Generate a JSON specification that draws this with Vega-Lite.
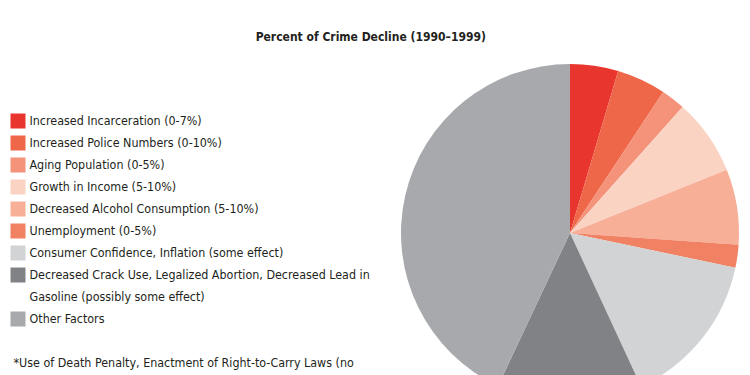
{
  "$schema": "https://vega.github.io/schema/vega-lite/v6.json",
  "autosize": {"type": "pad"},
  "padding": {"left": 10, "top": 31, "right": 5, "bottom": 0},
  "background": "white",
  "title": {
    "text": "Percent of Crime Decline (1990–1999)",
    "anchor": "middle",
    "font": "DejaVu Sans Condensed, Liberation Sans, sans-serif",
    "fontSize": 12,
    "fontWeight": "bold",
    "color": "#231F20",
    "offset": 20,
    "dx": -4
  },
  "config": {"view": {"stroke": null}},
  "datasets": {
    "factors": [
      {"factor": "Increased Incarceration (0-7%)", "pct": 4.6, "rank": 1},
      {"factor": "Increased Police Numbers (0-10%)", "pct": 4.7, "rank": 2},
      {"factor": "Aging Population (0-5%)", "pct": 2.3, "rank": 3},
      {"factor": "Growth in Income (5-10%)", "pct": 7.3, "rank": 4},
      {"factor": "Decreased Alcohol Consumption (5-10%)", "pct": 7.2, "rank": 5},
      {"factor": "Unemployment (0-5%)", "pct": 2.2, "rank": 6},
      {"factor": "Consumer Confidence, Inflation (some effect)", "pct": 14.8, "rank": 7},
      {"factor": "Decreased Crack Use, Legalized Abortion, Decreased Lead in\nGasoline (possibly some effect)", "pct": 13.9, "rank": 8},
      {"factor": "Other Factors", "pct": 43.0, "rank": 9}
    ],
    "note": [
      {"key": "note", "text": "*Use of Death Penalty, Enactment of Right-to-Carry Laws (no"}
    ]
  },
  "spacing": 20,
  "hconcat": [
    {
      "width": 362.5,
      "height": 338,
      "layer": [
        {
          "data": {"name": "factors"},
          "mark": {"type": "square", "size": 225, "opacity": 1, "filled": true},
          "encoding": {
            "x": {"datum": 0, "type": "quantitative", "scale": {"domain": [0, 1]}, "axis": null},
            "y": {
              "field": "factor",
              "type": "nominal",
              "scale": {
                "type": "point",
                "padding": 0,
                "range": [57, 299],
                "domain": [
                  "Increased Incarceration (0-7%)",
                  "Increased Police Numbers (0-10%)",
                  "Aging Population (0-5%)",
                  "Growth in Income (5-10%)",
                  "Decreased Alcohol Consumption (5-10%)",
                  "Unemployment (0-5%)",
                  "Consumer Confidence, Inflation (some effect)",
                  "Decreased Crack Use, Legalized Abortion, Decreased Lead in\nGasoline (possibly some effect)",
                  "gap1",
                  "Other Factors",
                  "gap2",
                  "note"
                ]
              },
              "axis": null
            },
            "color": {
              "field": "factor",
              "type": "nominal",
              "legend": null,
              "scale": {
                "domain": [
                  "Increased Incarceration (0-7%)",
                  "Increased Police Numbers (0-10%)",
                  "Aging Population (0-5%)",
                  "Growth in Income (5-10%)",
                  "Decreased Alcohol Consumption (5-10%)",
                  "Unemployment (0-5%)",
                  "Consumer Confidence, Inflation (some effect)",
                  "Decreased Crack Use, Legalized Abortion, Decreased Lead in\nGasoline (possibly some effect)",
                  "Other Factors"
                ],
                "range": ["#E8352E", "#EF6749", "#F4937A", "#FAD3C3", "#F7AF98", "#F08163", "#D1D3D4", "#808285", "#A7A9AC"]
              }
            }
          }
        },
        {
          "data": {"name": "factors"},
          "mark": {
            "type": "text",
            "align": "left",
            "baseline": "middle",
            "dx": 11.5,
            "font": "DejaVu Sans Condensed, Liberation Sans, sans-serif",
            "fontSize": 12.4,
            "lineHeight": 22,
            "lineBreak": "\n",
            "color": "#231F20"
          },
          "encoding": {
            "x": {"datum": 0, "type": "quantitative", "axis": null},
            "y": {"field": "factor", "type": "nominal", "axis": null},
            "text": {"field": "factor"}
          }
        },
        {
          "data": {"name": "note"},
          "mark": {
            "type": "text",
            "align": "left",
            "baseline": "middle",
            "dx": -4.5,
            "font": "DejaVu Sans Condensed, Liberation Sans, sans-serif",
            "fontSize": 12.4,
            "color": "#231F20"
          },
          "encoding": {
            "x": {"datum": 0, "type": "quantitative", "axis": null},
            "y": {"field": "key", "type": "nominal", "axis": null},
            "text": {"field": "text"}
          }
        }
      ]
    },
    {
      "width": 338,
      "height": 338,
      "data": {"name": "factors"},
      "mark": {"type": "arc"},
      "encoding": {
        "theta": {"field": "pct", "type": "quantitative", "stack": true},
        "order": {"field": "rank", "type": "quantitative"},
        "color": {"field": "factor", "type": "nominal", "legend": null}
      }
    }
  ]
}
